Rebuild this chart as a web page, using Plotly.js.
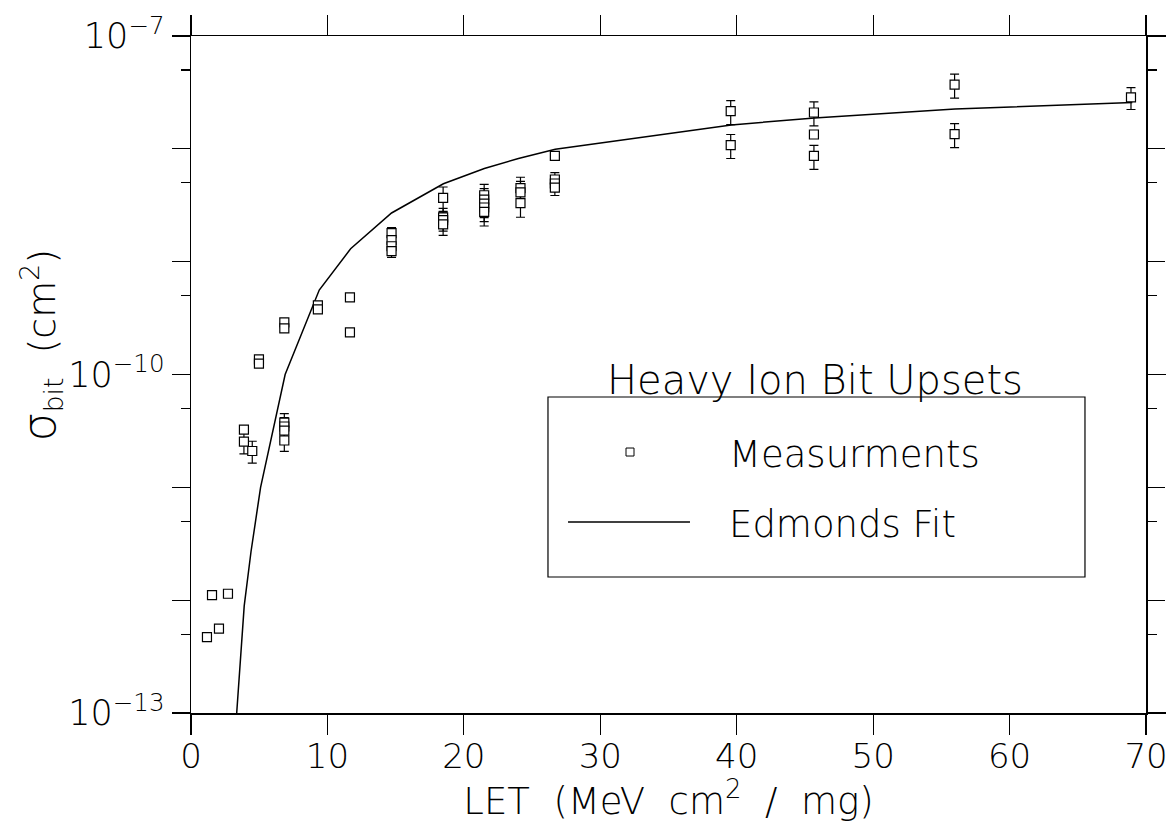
<!DOCTYPE html>
<html>
<head>
<meta charset="utf-8">
<script src="https://cdn.plot.ly/plotly-3.0.1.min.js"></script>
<style>html,body{margin:0;padding:0;background:#fff}#chart{width:1174px;height:823px}</style>
</head>
<body>
<div id="chart"></div>
<script>
// Measurements: LET (MeV cm^2/mg), cross-section per bit (cm^2), error bar (percent, 0 = none drawn)
const letMeas = [1.17, 1.54, 2.05, 2.71, 3.88, 3.88, 4.49, 4.98, 4.98,
  6.84, 6.84, 6.84, 6.84, 6.84, 6.84, 9.3, 9.3, 11.65, 11.65,
  14.7, 14.7, 14.7, 14.7, 18.48, 18.48, 18.48, 18.48,
  21.49, 21.49, 21.49, 21.49, 21.49, 24.15, 24.15, 24.15,
  26.67, 26.67, 26.67, 26.67, 39.56, 39.56, 45.66, 45.66, 45.66,
  55.97, 55.97, 68.9];
const sigmaMeas = [4.7e-13, 1.11e-12, 5.6e-13, 1.14e-12, 3.25e-11, 2.54e-11, 2.1e-11, 1.36e-10, 1.25e-10,
  2.9e-10, 2.56e-10, 3.75e-11, 3.46e-11, 3.18e-11, 2.6e-11, 4.1e-10, 3.78e-10, 4.82e-10, 2.36e-10,
  1.79e-9, 1.55e-9, 1.37e-9, 1.24e-9, 3.67e-9, 2.47e-9, 2.33e-9, 2.14e-9,
  3.88e-9, 3.55e-9, 3.27e-9, 3.02e-9, 2.76e-9, 4.48e-9, 4.12e-9, 3.3e-9,
  8.67e-9, 5.35e-9, 4.93e-9, 4.54e-9, 2.16e-8, 1.08e-8, 2.1e-8, 1.34e-8, 8.67e-9,
  3.7e-8, 1.35e-8, 2.86e-8];
const errPct = [0, 0, 0, 0, 0, 22, 22, 0, 0,
  0, 0, 20, 20, 20, 20, 0, 0, 0, 0,
  12, 12, 12, 12, 25, 20, 20, 20,
  25, 25, 25, 25, 25, 25, 25, 25,
  0, 15, 15, 15, 24, 24, 24, 0, 24,
  24, 24, 22];

// Edmonds fit curve
const letFit = [3.35, 3.9, 4.4, 5.1, 6.9, 9.4, 11.7, 14.7, 18.5, 21.5, 24.0, 26.7, 39.6, 45.7, 56.0, 69.0];
const sigmaFit = [1e-13, 8.9e-13, 2.7e-12, 1e-11, 1e-10, 5.6e-10, 1.3e-9, 2.7e-9, 4.9e-9, 6.7e-9, 8.2e-9, 9.9e-9, 1.63e-8, 1.88e-8, 2.25e-8, 2.58e-8];

// Axis ticks
const xTicks = [0, 10, 20, 30, 40, 50, 60, 70];
const yLabelTicks = [1e-7, 1e-10, 1e-13];
const yLabelText = ['10<sup>\u22127</sup>', '10<sup>\u221210</sup>', '10<sup>\u221213</sup>'];
const yOtherDecades = [1e-8, 1e-9, 1e-11, 1e-12];
const yMinorTicks = [5e-8, 5e-9, 5e-10, 5e-11, 5e-12, 5e-13];

const legendTitle = 'Heavy Ion Bit Upsets';
const legendNames = ['Measurments', 'Edmonds Fit'];
const xTitle = 'LET  (MeV  cm<sup>2</sup>  /  mg)';
const yTitle = '<span style="font-size:46px">\u03c3</span><sub>bit</sub>  (cm<sup>2</sup>)';

const FONT = '"DejaVu Sans", Roboto, sans-serif';
const W = 200;
const errAbs = sigmaMeas.map((v, i) => v * errPct[i] / 100);

const traces = [
  {
    x: letFit, y: sigmaFit, type: 'scatter', mode: 'lines',
    line: {color: '#000', width: 1.5}, name: legendNames[1], showlegend: false
  },
  {
    x: letMeas, y: sigmaMeas, type: 'scatter', mode: 'markers',
    marker: {symbol: 'square', size: 9, color: '#fff', line: {color: '#000', width: 1.2}},
    error_y: {type: 'data', array: errAbs, symmetric: true, color: '#000', thickness: 1.2, width: 4.5},
    name: legendNames[0], showlegend: false
  },
  {x: [], y: [], type: 'scatter', mode: 'markers', yaxis: 'y2', showlegend: false, hoverinfo: 'skip'}
];

const layout = {
  width: 1174, height: 823,
  margin: {l: 191, r: 28, t: 36, b: 110},
  paper_bgcolor: '#fff', plot_bgcolor: '#fff',
  showlegend: false,
  font: {family: FONT, color: '#000', size: 34, weight: W},
  xaxis: {
    range: [0, 70], tickmode: 'array', tickvals: xTicks,
    ticks: 'outside', ticklen: 20, tickwidth: 1.2, tickcolor: '#000',
    showline: true, linecolor: '#000', linewidth: 1.5, mirror: 'ticks',
    showgrid: false, zeroline: false, ticklabelstandoff: -7,
    tickfont: {family: FONT, size: 34, weight: W},
    title: {text: xTitle, font: {family: FONT, size: 37, weight: W}, standoff: 4}
  },
  yaxis: {
    type: 'log', range: [-13, -7], tickmode: 'array', tickvals: yLabelTicks, ticktext: yLabelText,
    ticks: 'outside', ticklen: 18, tickwidth: 1.2, tickcolor: '#000',
    minor: {tickmode: 'array', tickvals: yMinorTicks, ticks: 'outside', ticklen: 9, tickwidth: 1.2, tickcolor: '#000', showgrid: false},
    showline: true, linecolor: '#000', linewidth: 1.5, mirror: 'ticks',
    showgrid: false, zeroline: false,
    tickfont: {family: FONT, size: 35, weight: W}
  },
  yaxis2: {
    type: 'log', range: [-13, -7], overlaying: 'y', side: 'left', tickmode: 'array', tickvals: yOtherDecades,
    ticks: 'outside', ticklen: 18, tickwidth: 1.2, tickcolor: '#000', showticklabels: false,
    showline: false, mirror: 'ticks', showgrid: false, zeroline: false
  },
  shapes: [
    {type: 'rect', xref: 'paper', yref: 'paper', x0: 0.3738, x1: 0.9361, y0: 0.2009, y1: 0.4668,
     line: {color: '#000', width: 1.2}, fillcolor: 'rgba(0,0,0,0)'},
    {type: 'rect', xref: 'paper', yref: 'paper', xsizemode: 'pixel', ysizemode: 'pixel',
     xanchor: 0.4597, yanchor: 0.3855, x0: -4, x1: 4, y0: -4, y1: 4,
     line: {color: '#000', width: 1}, fillcolor: '#fff'},
    {type: 'line', xref: 'paper', yref: 'paper', x0: 0.3948, x1: 0.5225, y0: 0.2821, y1: 0.2821,
     line: {color: '#000', width: 1.5}}
  ],
  annotations: [
    {xref: 'paper', yref: 'paper', x: -0.158, y: 0.543, text: yTitle, showarrow: false, textangle: -90,
     xanchor: 'center', yanchor: 'middle', font: {family: FONT, size: 38, weight: W}},
    {xref: 'paper', yref: 'paper', x: 0.6534, y: 0.4919, text: legendTitle, showarrow: false,
     xanchor: 'center', yanchor: 'middle', font: {family: FONT, size: 40, weight: W}},
    {xref: 'paper', yref: 'paper', x: 0.5613, y: 0.3811, text: legendNames[0], showarrow: false,
     xanchor: 'left', yanchor: 'middle', font: {family: FONT, size: 37, weight: W}},
    {xref: 'paper', yref: 'paper', x: 0.5613, y: 0.2777, text: legendNames[1], showarrow: false,
     xanchor: 'left', yanchor: 'middle', font: {family: FONT, size: 37, weight: W}}
  ]
};

Plotly.newPlot('chart', traces, layout, {displayModeBar: false, staticPlot: true});
</script>
</body>
</html>
